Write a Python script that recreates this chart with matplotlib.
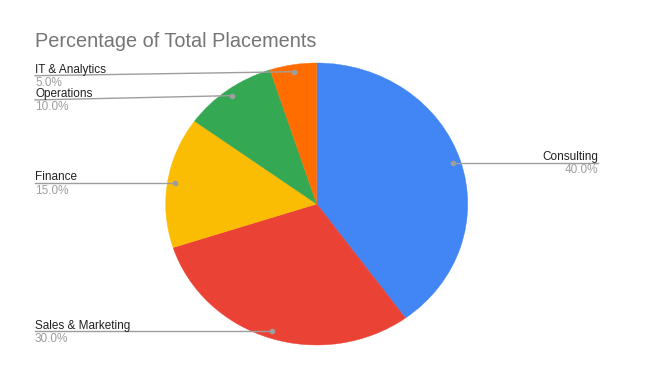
import matplotlib.pyplot as plt
import numpy as np

# data
labels = ["Consulting", "Sales & Marketing", "Finance", "Operations", "IT & Analytics"]
shares = [40, 30, 15, 10, 5]
colors = ["#4285F4", "#EA4335", "#FBBC04", "#34A853", "#FF6D01"]

plt.rcParams['font.family'] = ['Liberation Sans', 'DejaVu Sans']

W, H = 650, 379
fig = plt.figure(figsize=(W / 100, H / 100), dpi=100)
ax = fig.add_axes([0, 0, 1, 1])

# pie is slightly wider than tall in the reference
cx, cy = 316.7, 204      # centre in pixels (from top-left)
rx, ry = 151, 141        # pixel radii
xmin = -cx / rx
xmax = xmin + W / rx
ymax = cy / ry
ymin = ymax - H / ry

wedges, _ = ax.pie(shares, colors=colors, startangle=90, counterclock=False,
                   radius=1, wedgeprops=dict(linewidth=0))
for w in wedges:
    w.set_edgecolor(w.get_facecolor())
    w.set_linewidth(0.3)
ax.set_aspect('auto')
ax.set_xlim(xmin, xmax)
ax.set_ylim(ymin, ymax)
ax.axis('off')


def px(x, y):
    # pixel (from top-left) -> data
    return xmin + x / rx, ymax - y / ry


# label layout: side, leader line y offset from the dot (px)
side = ["right", "left", "left", "left", "left"]
y_shift = [0, 0, 0, 4.3, 4.0]

for w, lab, val, s, dy in zip(wedges, labels, shares, side, y_shift):
    ang = np.deg2rad((w.theta1 + w.theta2) / 2)
    dx_, dy_ = 0.95 * np.cos(ang), 0.95 * np.sin(ang)
    dot_py = cy - dy_ * ry
    line_py = dot_py + dy
    pct = f"{val / sum(shares) * 100:.1f}%"
    x0 = 35 if s == "left" else 598
    ha = "left" if s == "left" else "right"
    ax.text(*px(x0, line_py - 2.8), lab, fontsize=8.5, color="#222222",
            ha=ha, va="baseline")
    ax.text(*px(x0, line_py + 10.5), pct, fontsize=8.5, color="#9E9E9E",
            ha=ha, va="baseline")
    ax.plot([px(x0, 0)[0], dx_], [px(0, line_py)[1], dy_],
            color="#9E9E9E", lw=1)
    ax.plot(dx_, dy_, 'o', color="#9E9E9E", ms=3)

ax.text(*px(35, 47), "Percentage of Total Placements", fontsize=14.3,
        color="#757575", ha="left", va="baseline")

fig.savefig("out.png", dpi=100)
